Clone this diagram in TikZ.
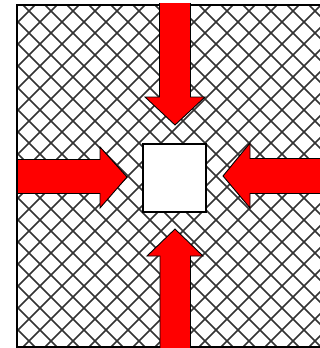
\documentclass[tikz,border=0pt]{standalone}
\usepackage{tikz}
\usetikzlibrary{positioning}

\tikzset{
    hatchline/.style={black!80, line width=1.5pt},
    pressarrow/.style={fill=red, draw=black, line width=0.9pt, line join=miter},
    cavity/.style={draw=black, fill=white, line width=2pt, minimum width=63pt, minimum height=68pt, inner sep=0pt}
}

\begin{document}
\begin{tikzpicture}[x=1pt, y=-1pt]
    \useasboundingbox (0,0) rectangle (320,348);
    % hatched material
    \begin{scope}
      \clip (17,5) rectangle (322,347);
      \foreach \c in {-400,-378,...,720} {
        \draw[hatchline] (\c,0) -- ++(400,400);
        \draw[hatchline] (\c,0) -- ++(-400,400);
      }
    \end{scope}
    \draw[line width=2pt] (322,5) -- (17,5) -- (17,347) -- (322,347);
    % top arrow
    \filldraw[pressarrow] (159.5,3) -- (159.5,97) -- (145,97) -- (175,125)
        -- (205,97) -- (190.5,97) -- (190.5,3);
    % bottom arrow
    \filldraw[pressarrow] (160,349) -- (160,256) -- (147,256) -- (175,229)
        -- (203,256) -- (190.5,256) -- (190.5,349);
    % left arrow
    \filldraw[pressarrow] (18,159.5) -- (100,159.5) -- (100,147) -- (127,177)
        -- (100,208) -- (100,193.5) -- (18,193.5);
    % right arrow
    \filldraw[pressarrow] (323,158.5) -- (250,158.5) -- (250,143) -- (223,176)
        -- (250,208) -- (250,193.5) -- (323,193.5);
    % centre square
    \node[cavity] (hole) at (174.5,177.5) {};
\end{tikzpicture}
\end{document}
